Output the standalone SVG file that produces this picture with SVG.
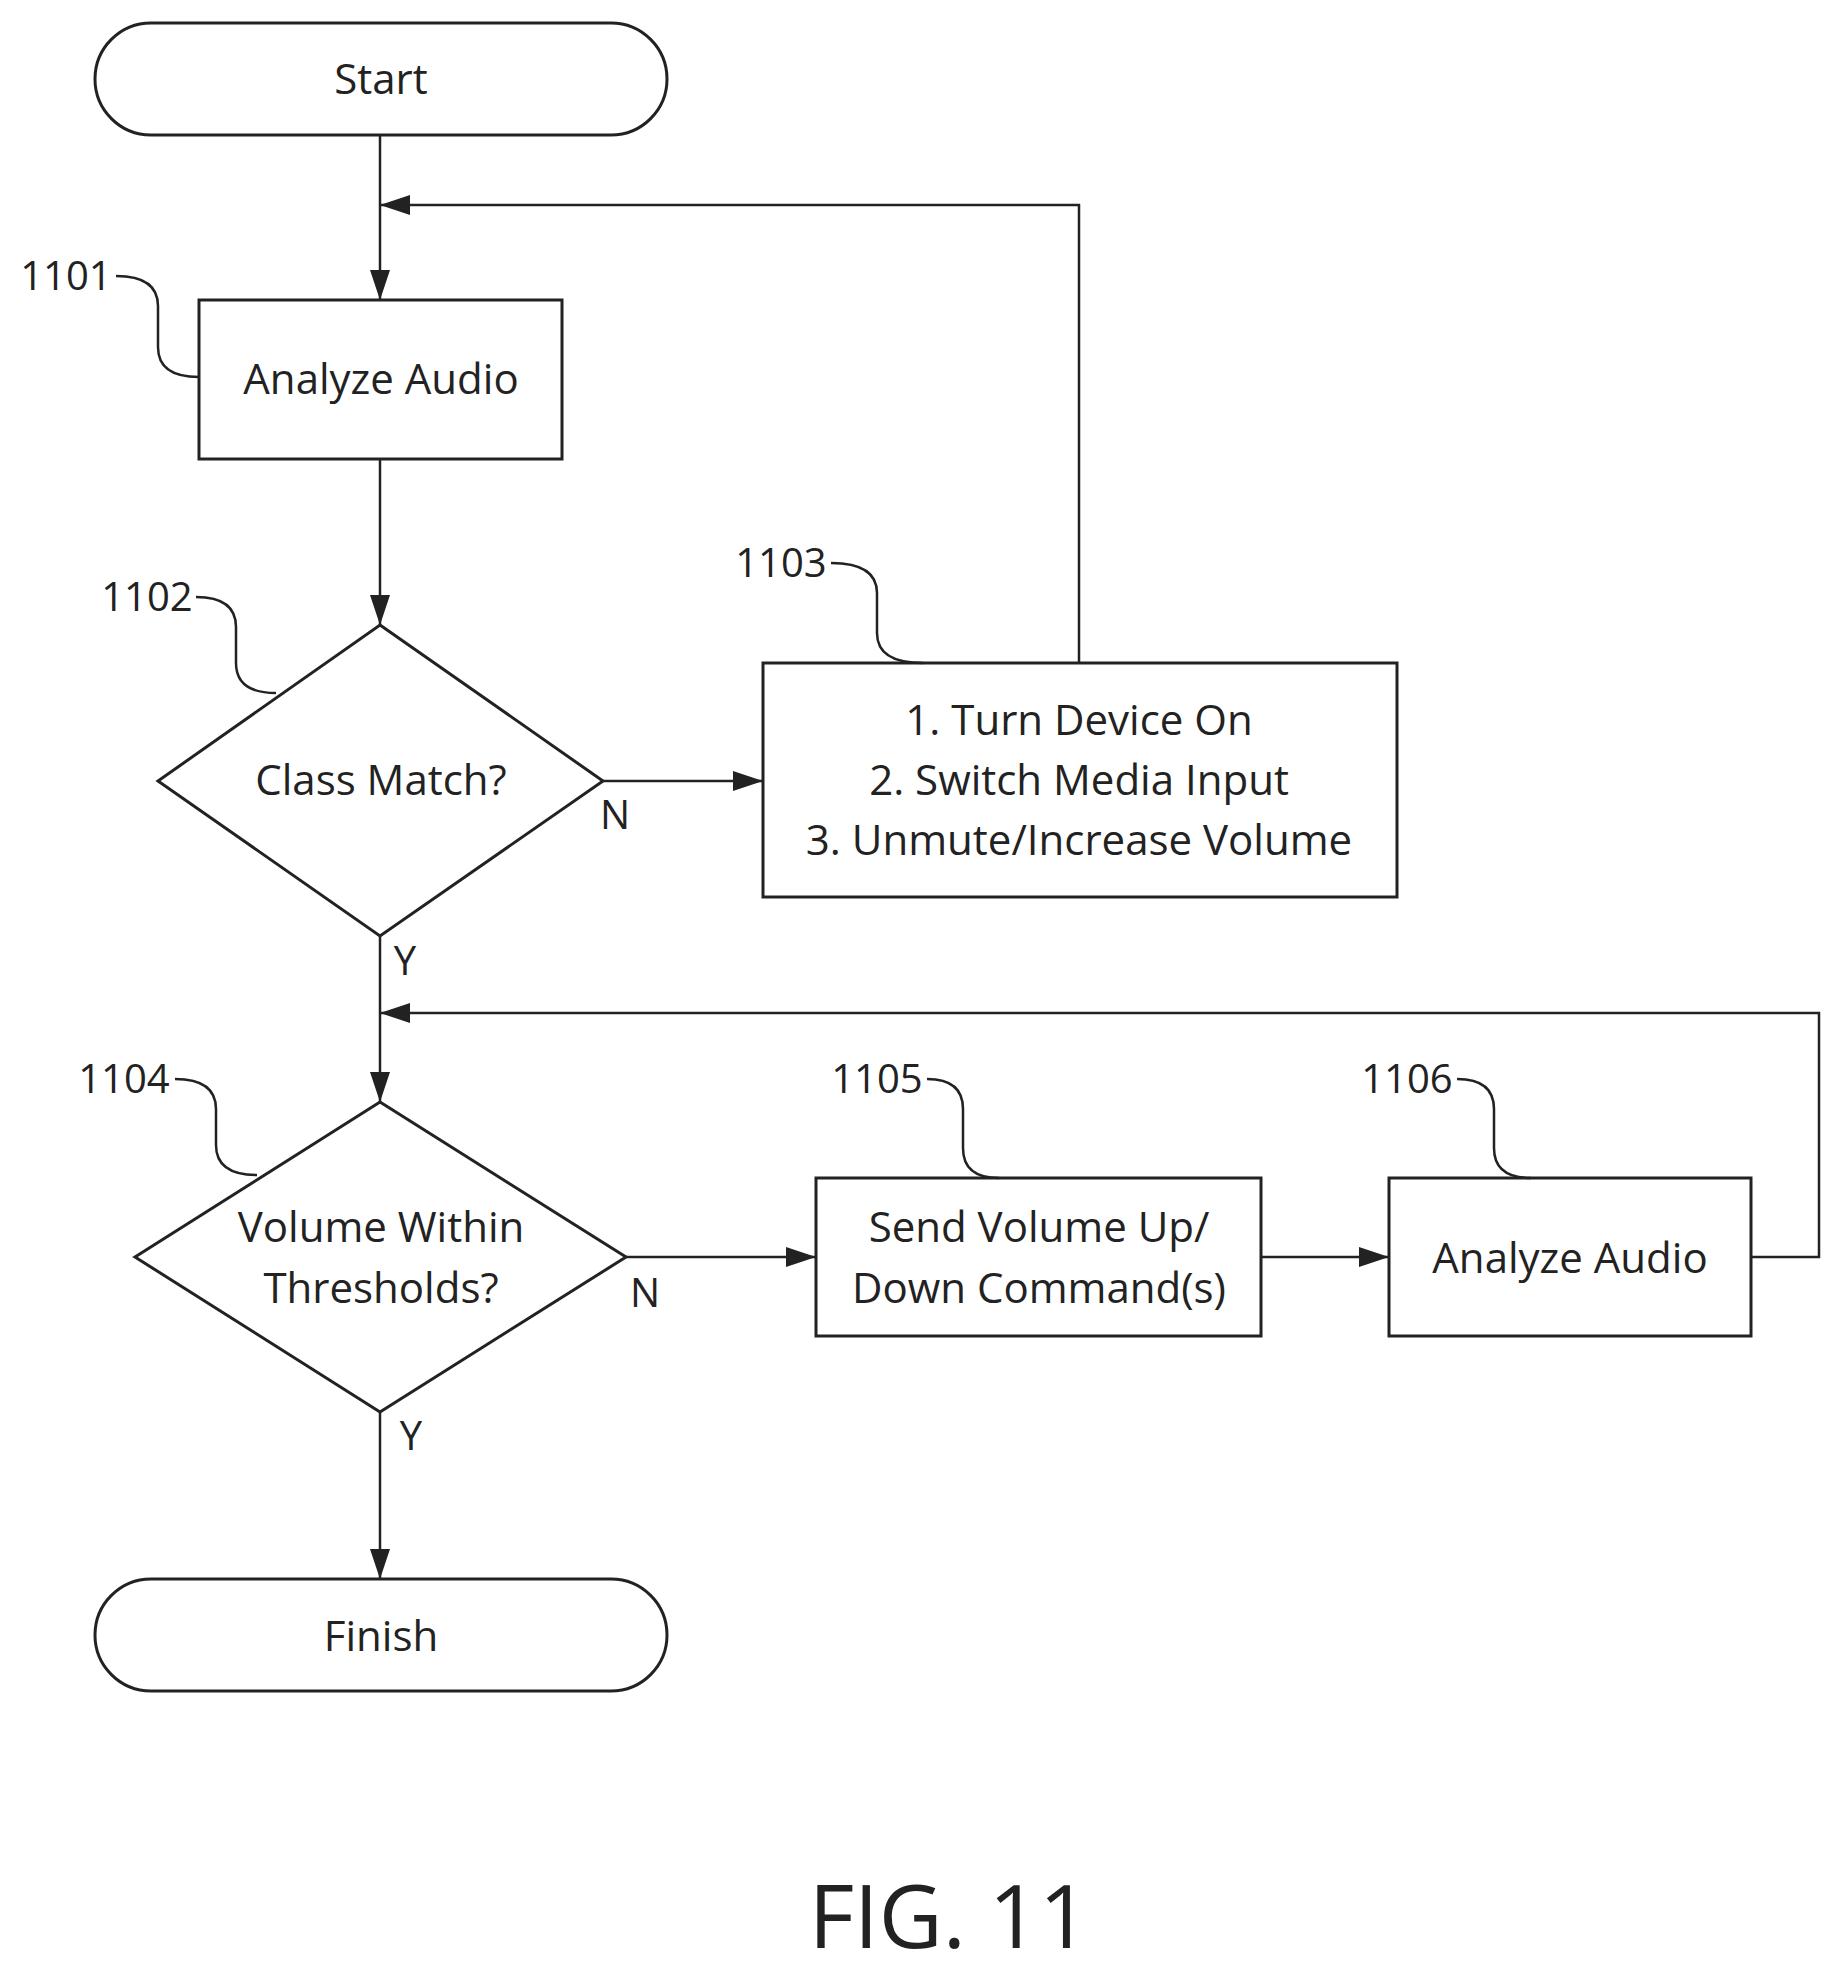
<svg xmlns="http://www.w3.org/2000/svg" width="1834" height="1976" viewBox="0 0 1834 1976">
<style>
.s{fill:#fff;stroke:#222;stroke-width:3}
.c{fill:none;stroke:#222;stroke-width:2.5}
.t{font-family:"Open Sans","Liberation Sans",sans-serif;font-size:42px;fill:#222;text-anchor:middle}
.r{font-family:"Open Sans","Liberation Sans",sans-serif;font-size:40px;fill:#222;text-anchor:middle}
</style>
<defs>
<marker id="b" markerWidth="30" markerHeight="20" refX="30" refY="10" orient="auto" markerUnits="userSpaceOnUse"><path d="M0,0L30,10L0,20z" fill="#222"/></marker></defs>
<rect width="1834" height="1976" fill="#fff"/>
<g id="connectors">
<path class="c" d="M380,135V300" marker-end="url(#b)"/>
<path class="c" d="M380,459V625" marker-end="url(#b)"/>
<path class="c" d="M603,781H763" marker-end="url(#b)"/>
<path class="c" d="M1079,663V205H380" marker-end="url(#b)"/>
<path class="c" d="M380,936V1102" marker-end="url(#b)"/>
<path class="c" d="M626,1257H816" marker-end="url(#b)"/>
<path class="c" d="M1261,1257H1389" marker-end="url(#b)"/>
<path class="c" d="M1751,1257H1819V1013H380" marker-end="url(#b)"/>
<path class="c" d="M380,1412V1579" marker-end="url(#b)"/>
<text class="r" x="615" y="829">N</text>
<text class="r" x="405" y="975">Y</text>
<text class="r" x="645" y="1307">N</text>
<text class="r" x="411" y="1450">Y</text>
</g>
<g id="start"><rect class="s" x="95" y="23" width="572" height="112" rx="56"/><text class="t" x="381" y="94">Start</text></g>
<g id="n1101"><rect class="s" x="199" y="300" width="363" height="159"/><text class="t" x="381" y="394">Analyze Audio</text>
<text class="r" x="66" y="290">1101</text><path class="c" d="M116,276Q158,276 158,306L158,347Q158,377 199,377"/></g>
<g id="n1102"><path class="s" d="M380,625L603,781L380,936L158,781z"/><text class="t" x="381" y="795">Class Match?</text>
<text class="r" x="147" y="611">1102</text><path class="c" d="M196,597Q236,597 236,627L236,663Q236,693 276,693"/></g>
<g id="n1103"><rect class="s" x="763" y="663" width="634" height="234"/>
<text class="t" x="1079" y="735">1. Turn Device On</text><text class="t" x="1079" y="795">2. Switch Media Input</text><text class="t" x="1079" y="855">3. Unmute/Increase Volume</text>
<text class="r" x="781" y="577">1103</text><path class="c" d="M831,563Q877,563 877,593L877,633Q877,663 923,663"/></g>
<g id="n1104"><path class="s" d="M380,1102L626,1257L380,1412L135,1257z"/>
<text class="t" x="381" y="1242">Volume Within</text><text class="t" x="381" y="1303">Thresholds?</text>
<text class="r" x="124" y="1093">1104</text><path class="c" d="M175,1079Q216,1079 216,1109L216,1145Q216,1175 257,1175"/></g>
<g id="n1105"><rect class="s" x="816" y="1178" width="445" height="158"/>
<text class="t" x="1039" y="1242">Send Volume Up/</text><text class="t" x="1039" y="1303">Down Command(s)</text>
<text class="r" x="877" y="1093">1105</text><path class="c" d="M927,1079Q963,1079 963,1109L963,1148Q963,1178 999,1178"/></g>
<g id="n1106"><rect class="s" x="1389" y="1178" width="362" height="158"/><text class="t" x="1570" y="1273">Analyze Audio</text>
<text class="r" x="1407" y="1093">1106</text><path class="c" d="M1457,1079Q1494,1079 1494,1109L1494,1148Q1494,1178 1531,1178"/></g>
<g id="finish"><rect class="s" x="95" y="1579" width="572" height="112" rx="56"/><text class="t" x="381" y="1651">Finish</text></g>
<text x="949" y="1948" style="font-family:'Open Sans','Liberation Sans',sans-serif;font-size:88px;fill:#222;text-anchor:middle">FIG. 11</text>
</svg>
